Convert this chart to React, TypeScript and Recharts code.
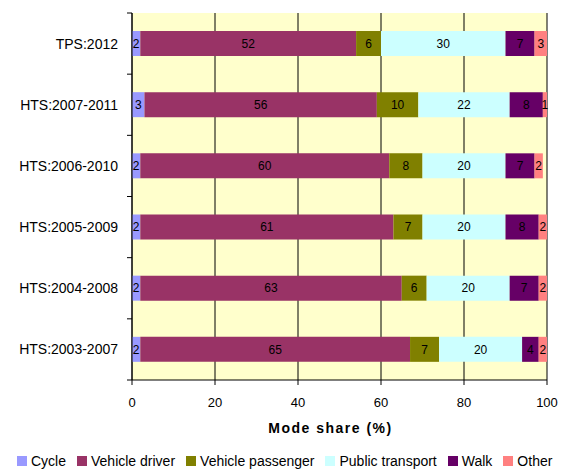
import React from 'react';
import { BarChart, Bar, XAxis, YAxis, CartesianGrid, Legend, LabelList, Label } from 'recharts';

const categories = ['TPS:2012', 'HTS:2007-2011', 'HTS:2006-2010', 'HTS:2005-2009', 'HTS:2004-2008', 'HTS:2003-2007'];
const cycle = [2, 3, 2, 2, 2, 2];
const vehicleDriver = [52, 56, 60, 61, 63, 65];
const vehiclePassenger = [6, 10, 8, 7, 6, 7];
const publicTransport = [30, 22, 20, 20, 20, 20];
const walk = [7, 8, 7, 8, 7, 4];
const other = [3, 1, 2, 2, 2, 2];
const xTicks = [0, 20, 40, 60, 80, 100];

const seriesNames = ['Cycle', 'Vehicle driver', 'Vehicle passenger', 'Public transport', 'Walk', 'Other'];
const seriesKeys = ['cycle', 'driver', 'passenger', 'pt', 'walk', 'other'];
const seriesColors = ['#9999FF', '#993366', '#808000', '#CCFFFF', '#660066', '#FF8080'];

const data = categories.map((name, i) => ({
  name,
  cycle: cycle[i],
  driver: vehicleDriver[i],
  passenger: vehiclePassenger[i],
  pt: publicTransport[i],
  walk: walk[i],
  other: other[i],
}));

const FONT = '"Liberation Sans", Arial, sans-serif';
const Y_TICK_MARGIN = 9;

const YTick = (props: any) => {
  const { x, y, payload, index, visibleTicksCount, height } = props;
  const half = payload && payload.offset ? payload.offset : height / (2 * visibleTicksCount);
  const lineX1 = x + Y_TICK_MARGIN;
  const lineX2 = lineX1 + 5;
  return (
    <g>
      <line x1={lineX1} x2={lineX2} y1={y - half} y2={y - half} stroke="#000" />
      {index === visibleTicksCount - 1 && (
        <line x1={lineX1} x2={lineX2} y1={y + half} y2={y + half} stroke="#000" />
      )}
      <text x={x} y={y} dy="0.355em" textAnchor="end" fontSize={14} fontFamily={FONT} fill="#000">
        {payload.value}
      </text>
    </g>
  );
};

const AxisTitle = (props: any) => {
  const vb = props.viewBox || {};
  return (
    <text
      x={vb.x + vb.width / 2 - 9}
      y={vb.y + 53}
      textAnchor="middle"
      fontSize={14}
      fontWeight="bold"
      letterSpacing={1.5}
      fontFamily={FONT}
      fill="#000"
    >
      Mode share (%)
    </text>
  );
};

const LegendContent = () => (
  <div
    style={{
      display: 'flex',
      alignItems: 'center',
      paddingLeft: 17,
      height: 16,
      fontFamily: FONT,
      fontSize: 14,
      lineHeight: '16px',
      color: '#000',
      whiteSpace: 'nowrap',
    }}
  >
    {seriesNames.map((n, i) => (
      <div key={n} style={{ display: 'flex', alignItems: 'center', marginRight: 11 }}>
        <span style={{ display: 'inline-block', width: 10, height: 10, background: seriesColors[i], marginRight: 4 }} />
        <span>{n}</span>
      </div>
    ))}
  </div>
);

export default function App() {
  return (
    <div style={{ position: 'absolute', left: 0, top: 0, width: 565, height: 470, background: '#fff' }}>
      <BarChart
        width={565}
        height={470}
        data={data}
        layout="vertical"
        margin={{ top: 13, right: 18, bottom: 0, left: 0 }}
        barSize={25}
      >
        <CartesianGrid horizontal={false} vertical={true} stroke="#000" fill="#FFFFCC" />
        <XAxis
          type="number"
          domain={[0, 100]}
          ticks={xTicks}
          interval={0}
          tickSize={5}
          tickMargin={13}
          height={74}
          axisLine={{ stroke: '#000' }}
          tickLine={{ stroke: '#000' }}
          tick={{ fontSize: 13, fontFamily: FONT, fill: '#000' }}
        >
          <Label content={<AxisTitle />} />
        </XAxis>
        <XAxis
          xAxisId="top"
          orientation="top"
          type="number"
          domain={[0, 100]}
          height={0}
          tick={false}
          tickLine={false}
          axisLine={{ stroke: '#A0A0A0' }}
        />
        <YAxis
          type="category"
          dataKey="name"
          width={132}
          tickSize={5}
          tickMargin={Y_TICK_MARGIN}
          tickLine={false}
          axisLine={{ stroke: '#000' }}
          tick={<YTick />}
          interval={0}
        />
        <YAxis
          yAxisId="right"
          orientation="right"
          type="category"
          dataKey="name"
          width={0}
          tick={false}
          tickLine={false}
          axisLine={{ stroke: '#A0A0A0' }}
        />
        <Legend
          verticalAlign="bottom"
          content={<LegendContent />}
          wrapperStyle={{ left: 0, width: 565, bottom: 1 }}
        />
        {seriesKeys.map((k, i) => (
          <Bar key={k} dataKey={k} name={seriesNames[i]} stackId="a" fill={seriesColors[i]} isAnimationActive={false}>
            <LabelList dataKey={k} position="center" fill="#000" fontSize={12} fontFamily={FONT} />
          </Bar>
        ))}
      </BarChart>
    </div>
  );
}
